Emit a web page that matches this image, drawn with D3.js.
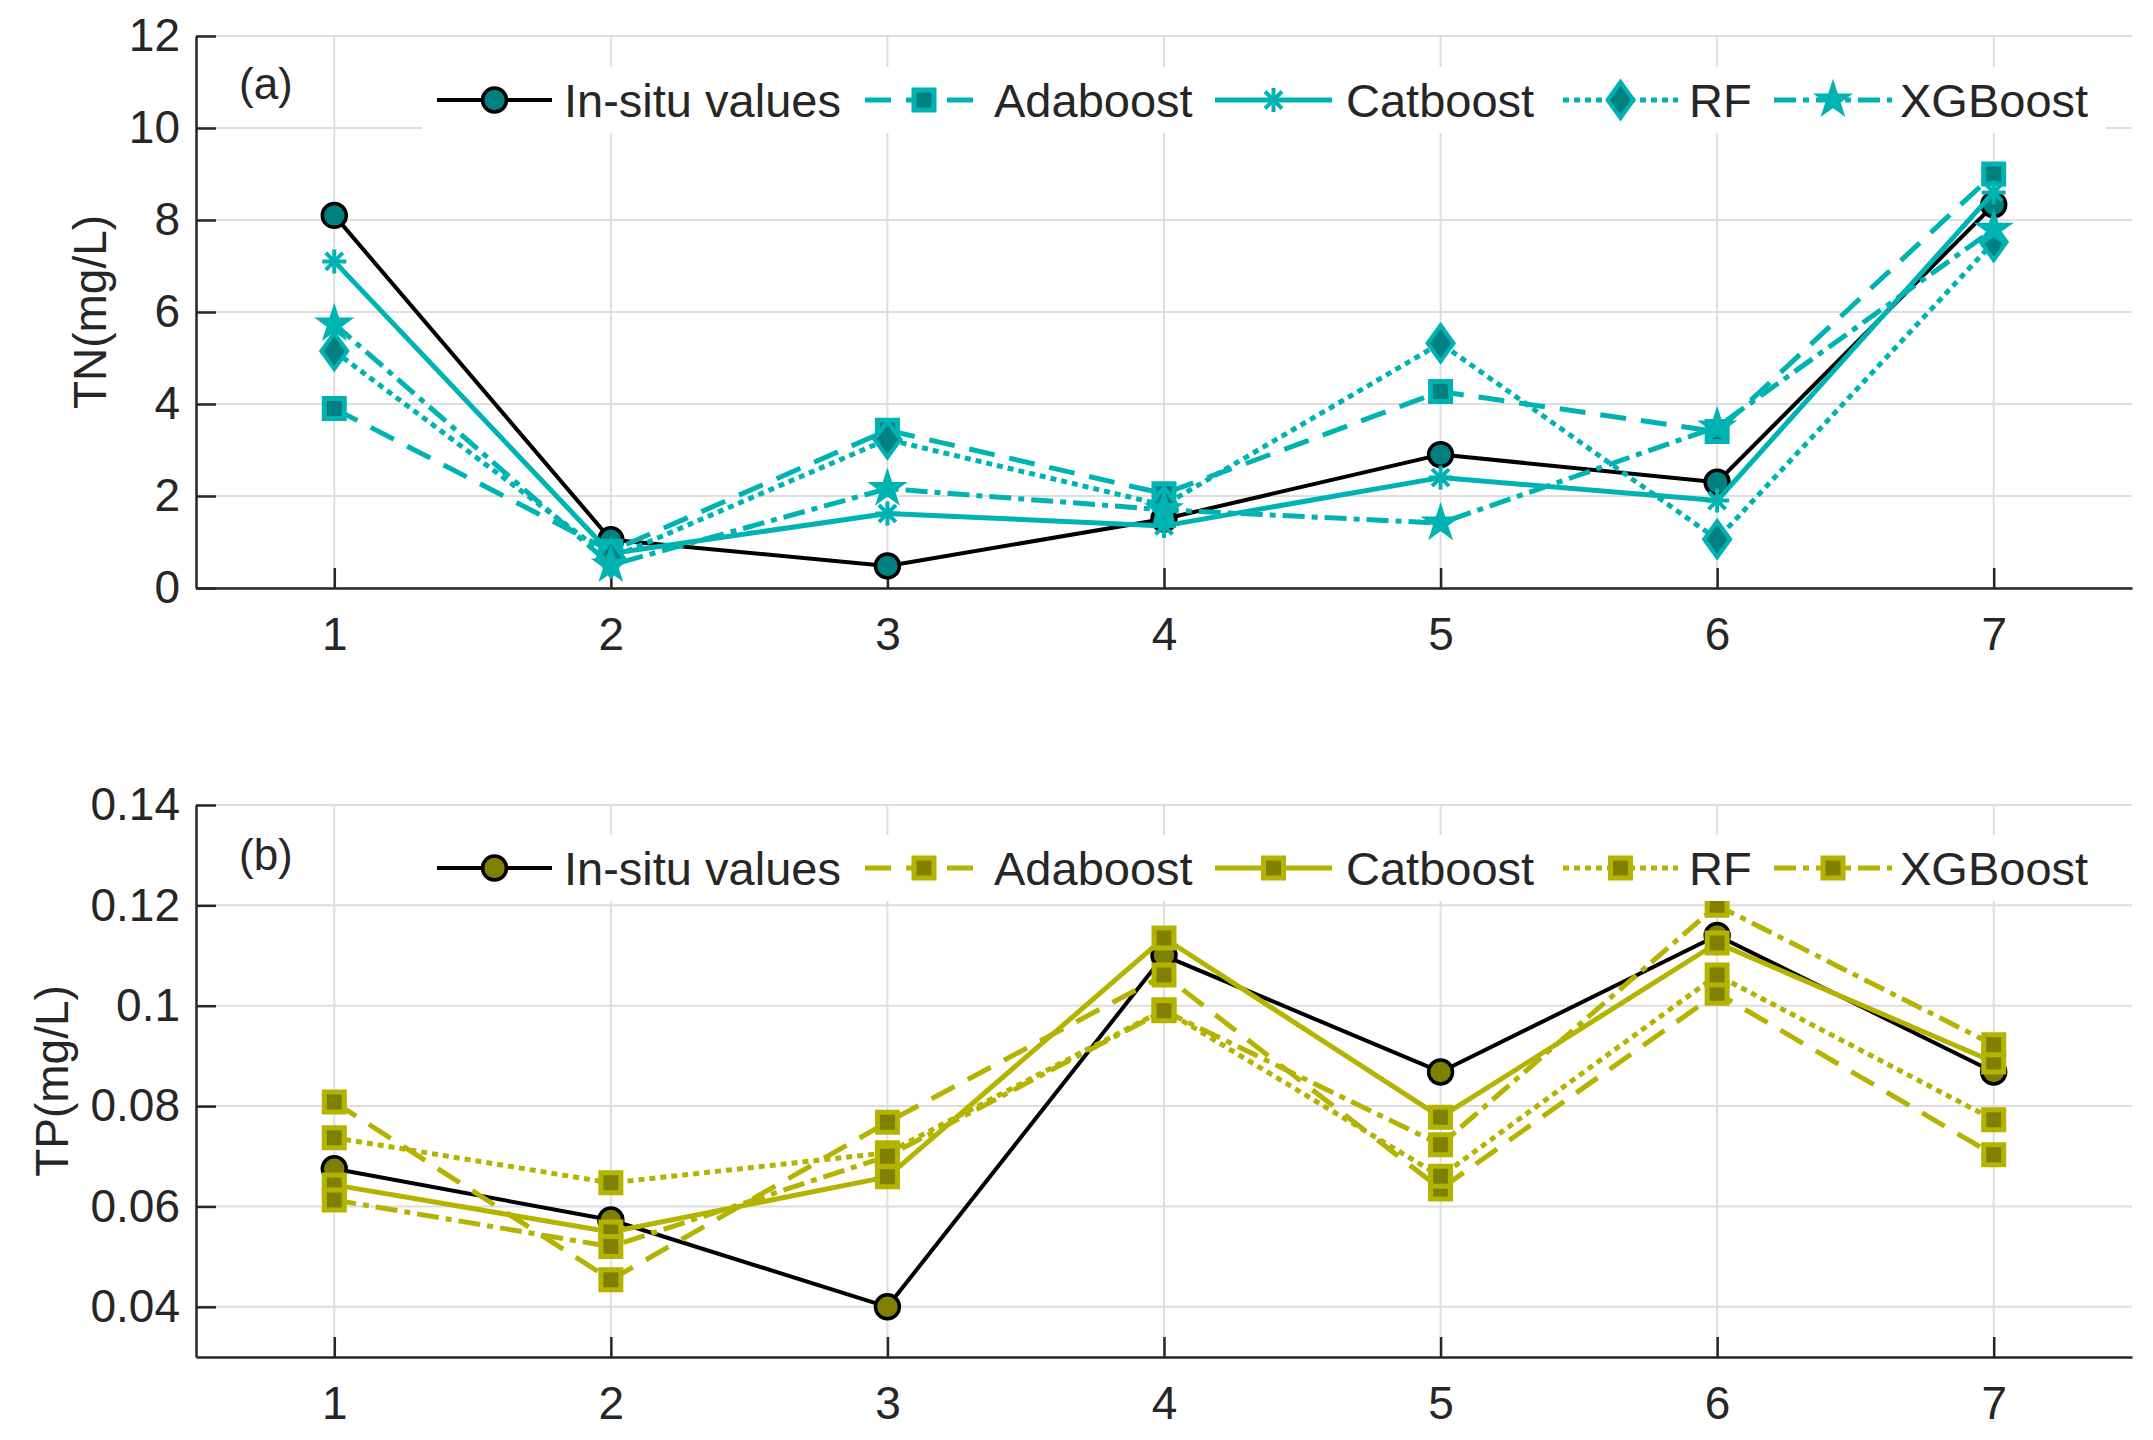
<!DOCTYPE html>
<html>
<head>
<meta charset="utf-8">
<script src="https://cdn.jsdelivr.net/npm/d3@7"></script>
<style>
  body { margin: 0; background: #fff; }
  text { font-family: "Liberation Sans", Arial, Helvetica, sans-serif; fill: #262626; }
</style>
</head>
<body>
<svg id="chart" width="2153" height="1440"></svg>
<script>
// data
var sites = [1, 2, 3, 4, 5, 6, 7]
var seriesNames = ["In-situ values", "Adaboost", "Catboost", "RF", "XGBoost"]

var tnInsitu = [8.1, 1.05, 0.48, 1.5, 2.9, 2.3, 8.33]
var tnAdaboost = [3.9, 0.8, 3.43, 2.05, 4.27, 3.4, 9.0]
var tnCatboost = [7.1, 0.75, 1.62, 1.35, 2.4, 1.9, 8.6]
var tnRF = [5.15, 0.65, 3.23, 1.8, 5.32, 1.06, 7.52]
var tnXGBoost = [5.74, 0.5, 2.16, 1.7, 1.41, 3.5, 7.8]

var tpInsitu = [0.0675, 0.0573, 0.04, 0.110, 0.0868, 0.114, 0.0868]
var tpAdaboost = [0.0808, 0.0454, 0.0768, 0.1061, 0.0635, 0.1025, 0.0703]
var tpCatboost = [0.0643, 0.0549, 0.0659, 0.1135, 0.0778, 0.1125, 0.0888]
var tpRF = [0.0737, 0.0647, 0.0707, 0.0992, 0.066, 0.1061, 0.0773]
var tpXGBoost = [0.0613, 0.052, 0.0700, 0.0990, 0.0723, 0.1200, 0.0922]

var tnTicks = [0, 2, 4, 6, 8, 10, 12]
var tpTicks = [0.04, 0.06, 0.08, 0.1, 0.12, 0.14]

var svg = d3.select("#chart")
var left = 196, right = 2132

var x = d3.scaleLinear().domain([0.5, 7.5]).range([left, right])

// line styles per series
var dashes = [null, "26,15", null, "6,5", "22,7,6,7"]
var widths = [4, 5, 5, 5, 5]

// legend positions: line start, line end, text start
var legendPos = [[437, 552, 564], [865, 983, 994], [1215, 1332, 1346], [1563, 1678, 1689], [1774, 1892, 1900]]

function markerPath(type) {
  if (type === "circle") return d3.symbol(d3.symbolCircle, 450)()
  if (type === "square") return d3.symbol(d3.symbolSquare, 400)()
  if (type === "star") return d3.symbol(d3.symbolStar, 360)()
  if (type === "diamond") return "M0,-18L13,0L0,18L-13,0Z"
  // asterisk: plus and cross
  var r = 12, k = r * 0.7071
  return "M" + (-r) + ",0L" + r + ",0M0," + (-r) + "L0," + r +
    "M" + (-k) + "," + (-k) + "L" + k + "," + k + "M" + (-k) + "," + k + "L" + k + "," + (-k)
}

function drawMarker(g, type, cx, cy, edge, fill) {
  var m = g.append("path")
    .attr("d", markerPath(type))
    .attr("transform", "translate(" + cx + "," + cy + ")")
  if (type === "circle") {
    m.attr("fill", fill).attr("stroke", "#000").attr("stroke-width", 3.5)
  } else if (type === "square") {
    m.attr("fill", fill).attr("stroke", edge).attr("stroke-width", 5)
  } else if (type === "asterisk") {
    m.attr("fill", "none").attr("stroke", edge).attr("stroke-width", 4)
  } else if (type === "star") {
    m.attr("fill", edge).attr("stroke", edge).attr("stroke-width", 2)
  } else {
    m.attr("fill", fill).attr("stroke", edge).attr("stroke-width", 4)
  }
}

function makePanel(p) {
  var y = d3.scaleLinear().domain(p.domain).range([p.bottom, p.top])
  var g = svg.append("g")

  // grid
  g.selectAll("line.hgrid")
    .data(p.ticks)
    .enter()
    .append("line")
    .attr("x1", left).attr("x2", right)
    .attr("y1", function (d) { return y(d) })
    .attr("y2", function (d) { return y(d) })
    .attr("stroke", "#dedede").attr("stroke-width", 2)

  g.selectAll("line.vgrid")
    .data(sites)
    .enter()
    .append("line")
    .attr("x1", function (d) { return x(d) })
    .attr("x2", function (d) { return x(d) })
    .attr("y1", p.top).attr("y2", p.bottom)
    .attr("stroke", "#dedede").attr("stroke-width", 2)

  // axes
  var yAxis = g.append("g")
    .attr("transform", "translate(" + left + ",0)")
    .call(d3.axisLeft(y).tickValues(p.ticks).tickSize(-20).tickSizeOuter(0)
      .tickPadding(16).tickFormat(p.format))
  var xAxis = g.append("g")
    .attr("transform", "translate(0," + p.bottom + ")")
    .call(d3.axisBottom(x).tickValues(sites).tickSize(-20).tickSizeOuter(0)
      .tickPadding(29).tickFormat(d3.format("d")))

  ;[yAxis, xAxis].forEach(function (a) {
    a.select(".domain").attr("stroke", "#262626").attr("stroke-width", 2.5)
    a.selectAll(".tick line").attr("stroke", "#262626").attr("stroke-width", 2.5)
    a.selectAll(".tick text").attr("font-size", 46).attr("fill", "#262626")
      .attr("font-family", "Liberation Sans, Arial, sans-serif")
  })

  // axis label
  g.append("text")
    .attr("transform", "translate(" + p.labelX + "," + ((p.top + p.bottom) / 2) + ") rotate(-90)")
    .attr("text-anchor", "middle")
    .attr("dy", "0.36em")
    .attr("font-size", 46)
    .text(p.label)

  // series
  var line = d3.line()
    .x(function (d, i) { return x(sites[i]) })
    .y(function (d) { return y(d) })

  p.series.forEach(function (s, k) {
    var col = k === 0 ? "#000" : p.edge
    g.append("path")
      .datum(s)
      .attr("d", line)
      .attr("fill", "none")
      .attr("stroke", col)
      .attr("stroke-width", widths[k])
      .attr("stroke-dasharray", dashes[k])
      .attr("stroke-linejoin", "round")
    s.forEach(function (v, i) {
      drawMarker(g, p.markers[k], x(sites[i]), y(v), p.edge, p.fill)
    })
  })

  // panel letter
  g.append("text")
    .attr("x", 239).attr("y", p.letterY)
    .attr("font-size", 44)
    .attr("fill", "#000")
    .text(p.letter)

  // legend
  var lg = g.append("g")
  lg.append("rect")
    .attr("x", 422).attr("y", p.legendY - 33)
    .attr("width", 1684).attr("height", 66)
    .attr("fill", "#fff")

  seriesNames.forEach(function (name, k) {
    var pos = legendPos[k]
    var col = k === 0 ? "#000" : p.edge
    lg.append("line")
      .attr("x1", pos[0]).attr("x2", pos[1])
      .attr("y1", p.legendY).attr("y2", p.legendY)
      .attr("stroke", col)
      .attr("stroke-width", widths[k])
      .attr("stroke-dasharray", dashes[k])
    drawMarker(lg, p.markers[k], (pos[0] + pos[1]) / 2, p.legendY, p.edge, p.fill)
    lg.append("text")
      .attr("x", pos[2]).attr("y", p.legendY)
      .attr("dy", "0.36em")
      .attr("font-size", 47)
      .attr("fill", "#000")
      .text(name)
  })
}

makePanel({
  top: 36, bottom: 588,
  domain: [0, 12], ticks: tnTicks, format: d3.format("d"),
  label: "TN(mg/L)", labelX: 89,
  letter: "(a)", letterY: 99, legendY: 100,
  edge: "#00b3b3", fill: "#008080",
  markers: ["circle", "square", "asterisk", "diamond", "star"],
  series: [tnInsitu, tnAdaboost, tnCatboost, tnRF, tnXGBoost]
})

makePanel({
  top: 805, bottom: 1357,
  domain: [0.03, 0.14], ticks: tpTicks, format: d3.format("~g"),
  label: "TP(mg/L)", labelX: 51,
  letter: "(b)", letterY: 870, legendY: 868,
  edge: "#b3b300", fill: "#808000",
  markers: ["circle", "square", "square", "square", "square"],
  series: [tpInsitu, tpAdaboost, tpCatboost, tpRF, tpXGBoost]
})
</script>
</body>
</html>
